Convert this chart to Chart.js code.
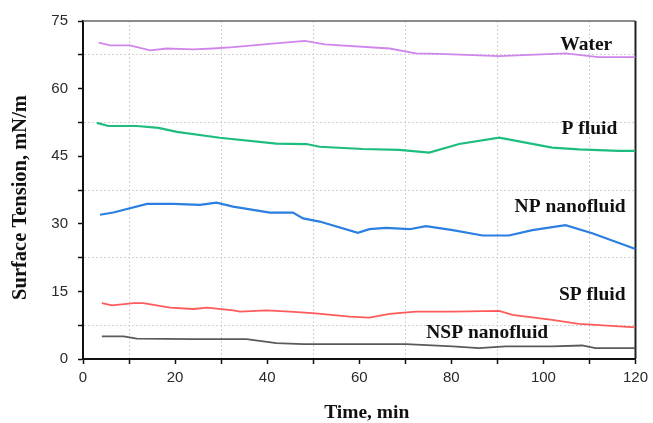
<!DOCTYPE html>
<html>
<head>
<meta charset="utf-8">
<script src="https://cdn.jsdelivr.net/npm/chart.js@4"></script>
<style>
  html, body { margin: 0; padding: 0; background: #fff; }
  #wrap { width: 653px; height: 423px; position: relative; }
</style>
</head>
<body>
<div id="wrap"><canvas id="c" width="653" height="423"></canvas></div>
<script>
// ---- data ----
const seriesNames = ["Water", "P fluid", "NP nanofluid", "SP fluid", "NSP nanofluid"];

const waterTime = [3.4, 5.9, 10.2, 14.6, 18.2, 23.9, 28.2, 32.6, 41.2, 48.2, 52.5, 66.6, 72.3, 77.4, 90.4, 104.8, 112, 120];
const waterTension = [70.2, 69.6, 69.6, 68.5, 68.9, 68.7, 68.9, 69.2, 70.0, 70.6, 69.8, 68.9, 67.8, 67.7, 67.2, 67.8, 67.0, 67.0];

const pTime = [3.0, 5.5, 11.7, 16.4, 20.4, 29.7, 42.0, 48.5, 51.4, 60.8, 68.7, 75.2, 81.7, 90.4, 101.9, 107.7, 116.4, 120];
const pTension = [52.4, 51.7, 51.7, 51.3, 50.4, 49.1, 47.8, 47.7, 47.1, 46.6, 46.4, 45.8, 47.7, 49.1, 46.9, 46.5, 46.2, 46.2];

const npTime = [3.7, 6.6, 13.9, 19.6, 25.4, 29.0, 32.6, 40.6, 45.6, 47.8, 51.4, 59.7, 62.2, 65.8, 70.9, 74.5, 80.3, 86.8, 92.5, 97.6, 104.8, 110.6, 120];
const npTension = [32.0, 32.5, 34.4, 34.4, 34.2, 34.7, 33.8, 32.5, 32.5, 31.2, 30.5, 28.0, 28.8, 29.1, 28.8, 29.5, 28.6, 27.4, 27.4, 28.6, 29.7, 27.9, 24.4];

const spTime = [4.1, 6.3, 11.0, 13.1, 18.9, 24.0, 26.9, 32.6, 34.1, 39.9, 44.9, 49.9, 57.9, 62.2, 66.6, 72.3, 80.3, 90.4, 93.3, 101.9, 107.7, 120];
const spTension = [12.4, 11.9, 12.4, 12.4, 11.4, 11.1, 11.4, 10.8, 10.5, 10.8, 10.5, 10.2, 9.4, 9.2, 10.0, 10.5, 10.5, 10.7, 9.8, 8.7, 7.8, 7.0];

const nspTime = [4.1, 8.8, 11.7, 23.9, 35.5, 42.0, 47.8, 60.1, 70.2, 80.3, 86.0, 91.8, 101.9, 108.4, 111.3, 120];
const nspTension = [5.0, 5.0, 4.5, 4.4, 4.4, 3.5, 3.3, 3.3, 3.3, 2.8, 2.4, 2.8, 2.8, 3.0, 2.4, 2.4];

// label anchor positions (centre, baseline) in data units (time, tension)
const labelTime = [109.3, 110.0, 105.8, 110.6, 87.8];
const labelTension = [68.5, 50.0, 32.6, 13.1, 4.7];

const xTicks = [0, 20, 40, 60, 80, 100, 120];
const yTicks = [0, 15, 30, 45, 60, 75];
const xTitle = "Time, min";
const yTitle = "Surface Tension, mN/m";

// ---- build ----
function pts(xs, ys) { return xs.map((x, i) => ({ x: x, y: ys[i] })); }
const colors = ["#cf86ec", "#1dbd7e", "#2a7fe0", "#ff5b5b", "#5a5a5a"];
const widths = [1.8, 2.2, 2.2, 1.8, 1.8];
const allX = [waterTime, pTime, npTime, spTime, nspTime];
const allY = [waterTension, pTension, npTension, spTension, nspTension];

const datasets = seriesNames.map((n, i) => ({
  label: n,
  data: pts(allX[i], allY[i]),
  borderColor: colors[i],
  borderWidth: widths[i],
  pointRadius: 0,
  tension: 0,
  fill: false
}));

const serif = '"Liberation Serif", "Times New Roman", serif';

const frame = {
  id: 'frame',
  beforeDatasetsDraw(chart) {
    const { ctx, chartArea: a } = chart;
    ctx.save();
    ctx.strokeStyle = '#666';
    ctx.lineWidth = 1.5;
    ctx.beginPath();
    ctx.moveTo(a.left, a.top);
    ctx.lineTo(a.right, a.top);
    ctx.stroke();
    ctx.strokeStyle = '#222';
    ctx.lineWidth = 2;
    ctx.beginPath();
    ctx.moveTo(a.right, a.top);
    ctx.lineTo(a.right, a.bottom);
    ctx.stroke();
    ctx.restore();
  },
  afterDatasetsDraw(chart) {
    const { ctx, chartArea: a } = chart;
    const xs = chart.scales.x, ys = chart.scales.y;
    ctx.save();
    ctx.font = 'bold 19.5px ' + serif;
    ctx.fillStyle = '#111';
    ctx.textAlign = 'center';
    ctx.textBaseline = 'alphabetic';
    seriesNames.forEach((n, i) => {
      ctx.fillText(n, xs.getPixelForValue(labelTime[i]), ys.getPixelForValue(labelTension[i]));
    });
    // axis titles
    ctx.font = 'bold 19.5px ' + serif;
    ctx.fillText(xTitle, (a.left + a.right) / 2 + 7.5, chart.height - 5);
    ctx.translate(26, (a.top + a.bottom) / 2 + 7.5);
    ctx.rotate(-Math.PI / 2);
    ctx.font = 'bold 20.5px ' + serif;
    ctx.fillText(yTitle, 0, 0);
    ctx.restore();
  }
};

new Chart(document.getElementById('c'), {
  type: 'line',
  data: { datasets },
  plugins: [frame],
  options: {
    responsive: false,
    animation: false,
    layout: { padding: { left: 0, top: 21, right: 16, bottom: 0 } },
    plugins: { legend: { display: false }, tooltip: { enabled: false } },
    scales: {
      x: {
        type: 'linear',
        min: 0, max: 120,
        afterFit(s) { s.height = 64; },
        ticks: {
          stepSize: 10,
          autoSkip: false,
          maxRotation: 0,
          padding: 5,
          color: '#2a2a2a',
          font: { family: '"Liberation Sans", Arial, sans-serif', size: 15 },
          callback: v => xTicks.includes(v) ? String(v) : ''
        },
        grid: {
          color: c => (c.tick && xTicks.includes(c.tick.value)) ? 'rgba(0,0,0,0)' : '#d2d2d2',
          lineWidth: 1,
          tickColor: '#111',
          tickLength: 5,
          tickWidth: 1.5,
          drawOnChartArea: true
        },
        border: { display: true, color: '#111', width: 2, dash: [2, 2] },
        title: { display: false }
      },
      y: {
        type: 'linear',
        min: 0, max: 75,
        afterFit(s) { s.width = 83; },
        afterBuildTicks(s) {
          const t = [];
          for (let v = 0; v <= 75; v += 7.5) t.push({ value: v });
          s.ticks = t;
        },
        ticks: {
          padding: 10,
          color: '#2a2a2a',
          font: { family: '"Liberation Sans", Arial, sans-serif', size: 15 },
          callback: v => yTicks.includes(v) ? String(v) : ''
        },
        grid: {
          color: c => (c.tick && yTicks.includes(c.tick.value)) ? 'rgba(0,0,0,0)' : '#d2d2d2',
          lineWidth: 1,
          tickColor: '#111',
          tickLength: 5,
          tickWidth: 1.5
        },
        border: { display: true, color: '#111', width: 2, dash: [2, 2] },
        title: { display: false }
      }
    }
  }
});
</script>
</body>
</html>
